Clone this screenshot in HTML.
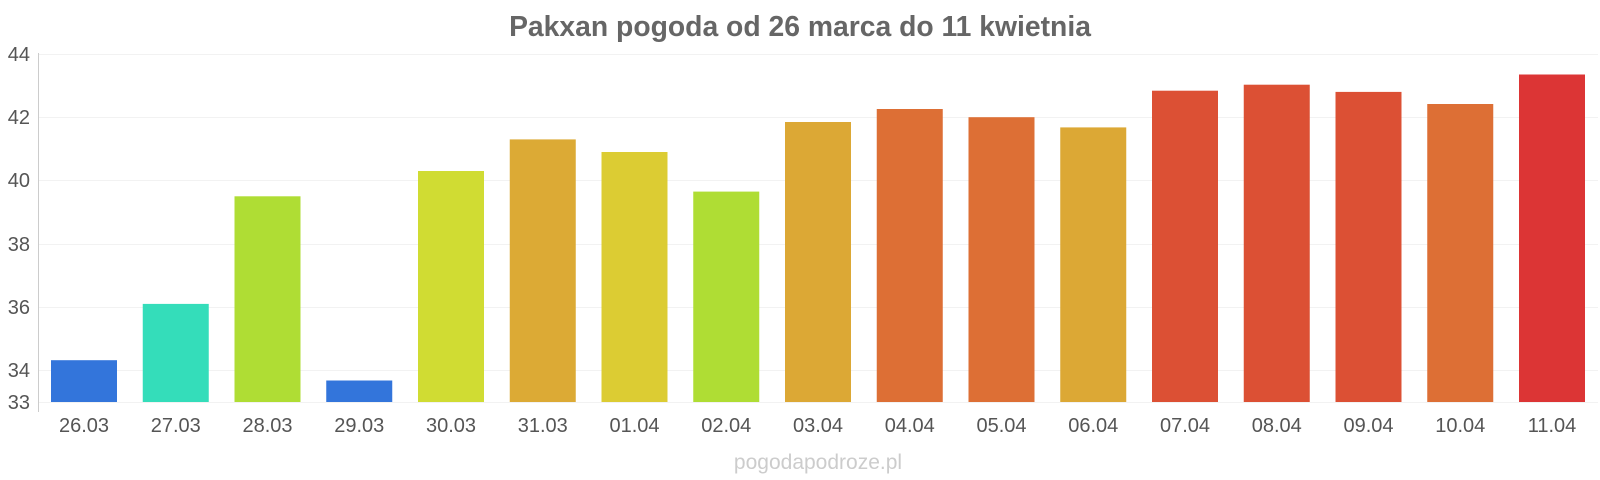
<!DOCTYPE html>
<html><head><meta charset="utf-8"><style>body{margin:0;background:#fff}svg{display:block}</style></head><body>
<svg width="1600" height="480" xmlns="http://www.w3.org/2000/svg" font-family="Liberation Sans, sans-serif">
<text x="800" y="36" text-anchor="middle" font-size="28.3" font-weight="bold" fill="#666">Pakxan pogoda od 26 marca do 11 kwietnia</text>
<g stroke="#f2f2f2" stroke-width="1">
<line x1="38" x2="1598" y1="54.5" y2="54.5"/><line x1="38" x2="1598" y1="117.5" y2="117.5"/><line x1="38" x2="1598" y1="180.5" y2="180.5"/><line x1="38" x2="1598" y1="244.5" y2="244.5"/><line x1="38" x2="1598" y1="307.5" y2="307.5"/><line x1="38" x2="1598" y1="370.5" y2="370.5"/><line x1="38" x2="1598" y1="402.5" y2="402.5"/>
</g>
<line x1="38.5" x2="38.5" y1="53" y2="412" stroke="#ccc"/>
<g font-size="20" fill="#555" text-anchor="end">
<text x="30" y="61">44</text><text x="30" y="124">42</text><text x="30" y="187">40</text><text x="30" y="251">38</text><text x="30" y="314">36</text><text x="30" y="377">34</text><text x="30" y="409">33</text>
</g>
<g>
<rect x="51" y="360.2" width="66" height="41.8" fill="#3375db"/>
<rect x="142.75" y="303.9" width="66" height="98.1" fill="#34ddba"/>
<rect x="234.5" y="196.3" width="66" height="205.7" fill="#afdd34"/>
<rect x="326.25" y="380.5" width="66" height="21.5" fill="#3375db"/>
<rect x="418" y="171" width="66" height="231" fill="#d0dc33"/>
<rect x="509.75" y="139.4" width="66" height="262.6" fill="#dcaa35"/>
<rect x="601.5" y="152" width="66" height="250" fill="#dccc33"/>
<rect x="693.25" y="191.6" width="66" height="210.4" fill="#afdd34"/>
<rect x="785" y="122" width="66" height="280" fill="#dca835"/>
<rect x="876.75" y="109" width="66" height="293" fill="#dd6f35"/>
<rect x="968.5" y="117.2" width="66" height="284.8" fill="#dd6f35"/>
<rect x="1060.25" y="127.4" width="66" height="274.6" fill="#dca835"/>
<rect x="1152" y="90.7" width="66" height="311.3" fill="#dc5034"/>
<rect x="1243.75" y="84.7" width="66" height="317.3" fill="#dc5034"/>
<rect x="1335.5" y="91.9" width="66" height="310.1" fill="#dc5034"/>
<rect x="1427.25" y="104" width="66" height="298" fill="#dd6f35"/>
<rect x="1519" y="74.5" width="66" height="327.5" fill="#dc3535"/>
</g>
<g font-size="20" fill="#555" text-anchor="middle">
<text x="84" y="432">26.03</text><text x="175.75" y="432">27.03</text><text x="267.5" y="432">28.03</text><text x="359.25" y="432">29.03</text><text x="451" y="432">30.03</text><text x="542.75" y="432">31.03</text><text x="634.5" y="432">01.04</text><text x="726.25" y="432">02.04</text><text x="818" y="432">03.04</text><text x="909.75" y="432">04.04</text><text x="1001.5" y="432">05.04</text><text x="1093.25" y="432">06.04</text><text x="1185" y="432">07.04</text><text x="1276.75" y="432">08.04</text><text x="1368.5" y="432">09.04</text><text x="1460.25" y="432">10.04</text><text x="1552" y="432">11.04</text>
</g>
<text x="818" y="469" text-anchor="middle" font-size="21" fill="#ccc">pogodapodroze.pl</text>
</svg>
</body></html>
